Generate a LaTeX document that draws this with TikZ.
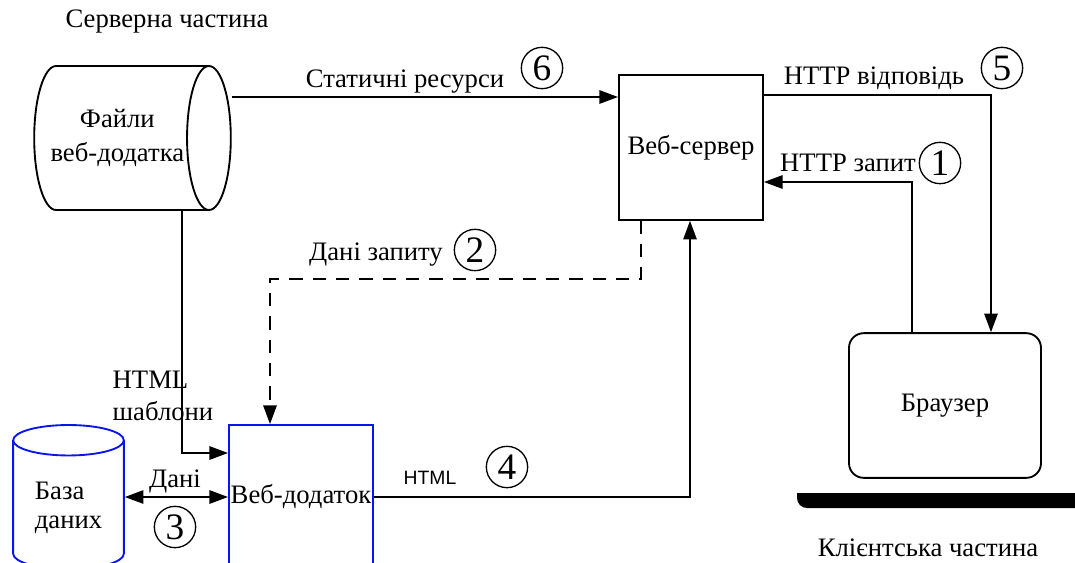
\documentclass[tikz,border=0pt]{standalone}
\usepackage{fontspec}
\setmainfont{Liberation Serif}
\newfontfamily\labelsans{Liberation Sans}
\usepackage{xcolor}
\usetikzlibrary{arrows.meta,shapes.geometric}
\definecolor{appblue}{HTML}{0A14F0}

\begin{document}
\begin{tikzpicture}[
  x=0.75pt,
  y=-0.75pt,
  every node/.style={font=\fontsize{20}{23}\selectfont, black},
  flow/.style={black, line width=1.4pt, -{Triangle[length=14pt, width=10pt]}},
  flowboth/.style={black, line width=1.4pt,
                   {Triangle[length=14pt, width=10pt]}-{Triangle[length=14pt, width=10pt]}},
  dashflow/.style={flow, dash pattern=on 10pt off 7.5pt},
  block/.style={draw, line width=1.4pt, inner sep=1pt},
  store/.style={draw, cylinder, line width=1.4pt, align=left},
  stepnum/.style={circle, draw, line width=1pt, inner sep=0pt, minimum size=31pt,
                  font=\fontsize{28}{28}\selectfont}
]
  \useasboundingbox (0,0) rectangle (1075,562);
  \clip (0,0) rectangle (1075,562);

  % ---- server side ----
  \node at (167,22) {Серверна частина};
  \node[store, aspect=0.66, inner xsep=1.5pt, minimum width=108pt, minimum height=120pt,
        align=center, anchor=shape center] (files) at (132.5,138)
        {Файли\\[2.5pt]веб-додатка};
  \node[block, minimum width=108pt, minimum height=108.5pt] (websrv) at (691,147.5)
        {Веб-сервер};
  \node[block, draw=appblue, minimum width=108pt, minimum height=108pt] (webapp)
        at (301,497) {Веб-додаток};
  \node[store, draw=appblue, shape border rotate=90, aspect=0.4,
        minimum width=83pt, minimum height=108pt, anchor=shape center] (db)
        at (68.5,497) {База\\[-1pt]даних};

  % ---- client side ----
  \node[block, rounded corners=11pt, minimum width=144pt, minimum height=108.5pt]
        (browser) at (945,405.5) {Браузер};
  \fill (1080,493) -- (797,493) -- (797,498) arc[start angle=180, end angle=90, radius=10]
        -- (1080,508) -- cycle;
  \node at (928,548) {Клієнтська частина};

  % ---- corners of the connectors ----
  \coordinate (respcorner) at (991,95);
  \coordinate (reqcorner)  at (912,182);
  \coordinate (askright)   at (641,279);
  \coordinate (askleft)    at (270,279);
  \coordinate (htmlcorner) at (690,497);
  \coordinate (tplcorner)  at (182,453);

  % ---- connectors ----
  \draw[flow] (files.east |- 0,97) -- (websrv.west |- 0,97);
  \draw[flow] (websrv.east |- respcorner) -- (respcorner) -- (browser.north -| respcorner);
  \draw[flow] (browser.north -| reqcorner) -- (reqcorner) -- (websrv.east |- reqcorner);
  \draw[dashflow] (websrv.south -| askright) -- (askright) -- (askleft)
        -- (webapp.north -| askleft);
  \draw[flow] (files.south -| tplcorner) -- (tplcorner) -- (webapp.west |- tplcorner);
  \draw[flowboth] (db.east |- htmlcorner) -- (webapp.west |- htmlcorner);
  \draw[flow] (webapp.east |- htmlcorner) -- (htmlcorner) -- (websrv.south -| htmlcorner);

  % ---- connector labels ----
  \node (staticlab) at (405,82) {Статичні ресурси};
  \node[stepnum] (six) at (542,68) {6};
  \node (resplab) at (874,78) {HTTP відповідь};
  \node[stepnum] (five) at (1002,68) {5};
  \node (reqlab) at (848,163) {HTTP запит};
  \node[stepnum] (one) at (940,163) {1};
  \node (asklab) at (376,255) {Дані запиту};
  \node[stepnum] (two) at (475,250) {2};
  \node[font=\fontsize{14.5}{17}\labelsans] (htmllab) at (430,478) {HTML};
  \node[stepnum] (four) at (507,467) {4};
  \node[anchor=west, align=left] (tpllab) at (108,396) {HTML\\[1pt]шаблони};
  \node (datalab) at (175,481) {Дані};
  \node[stepnum] (three) at (175,527) {3};
\end{tikzpicture}
\end{document}
